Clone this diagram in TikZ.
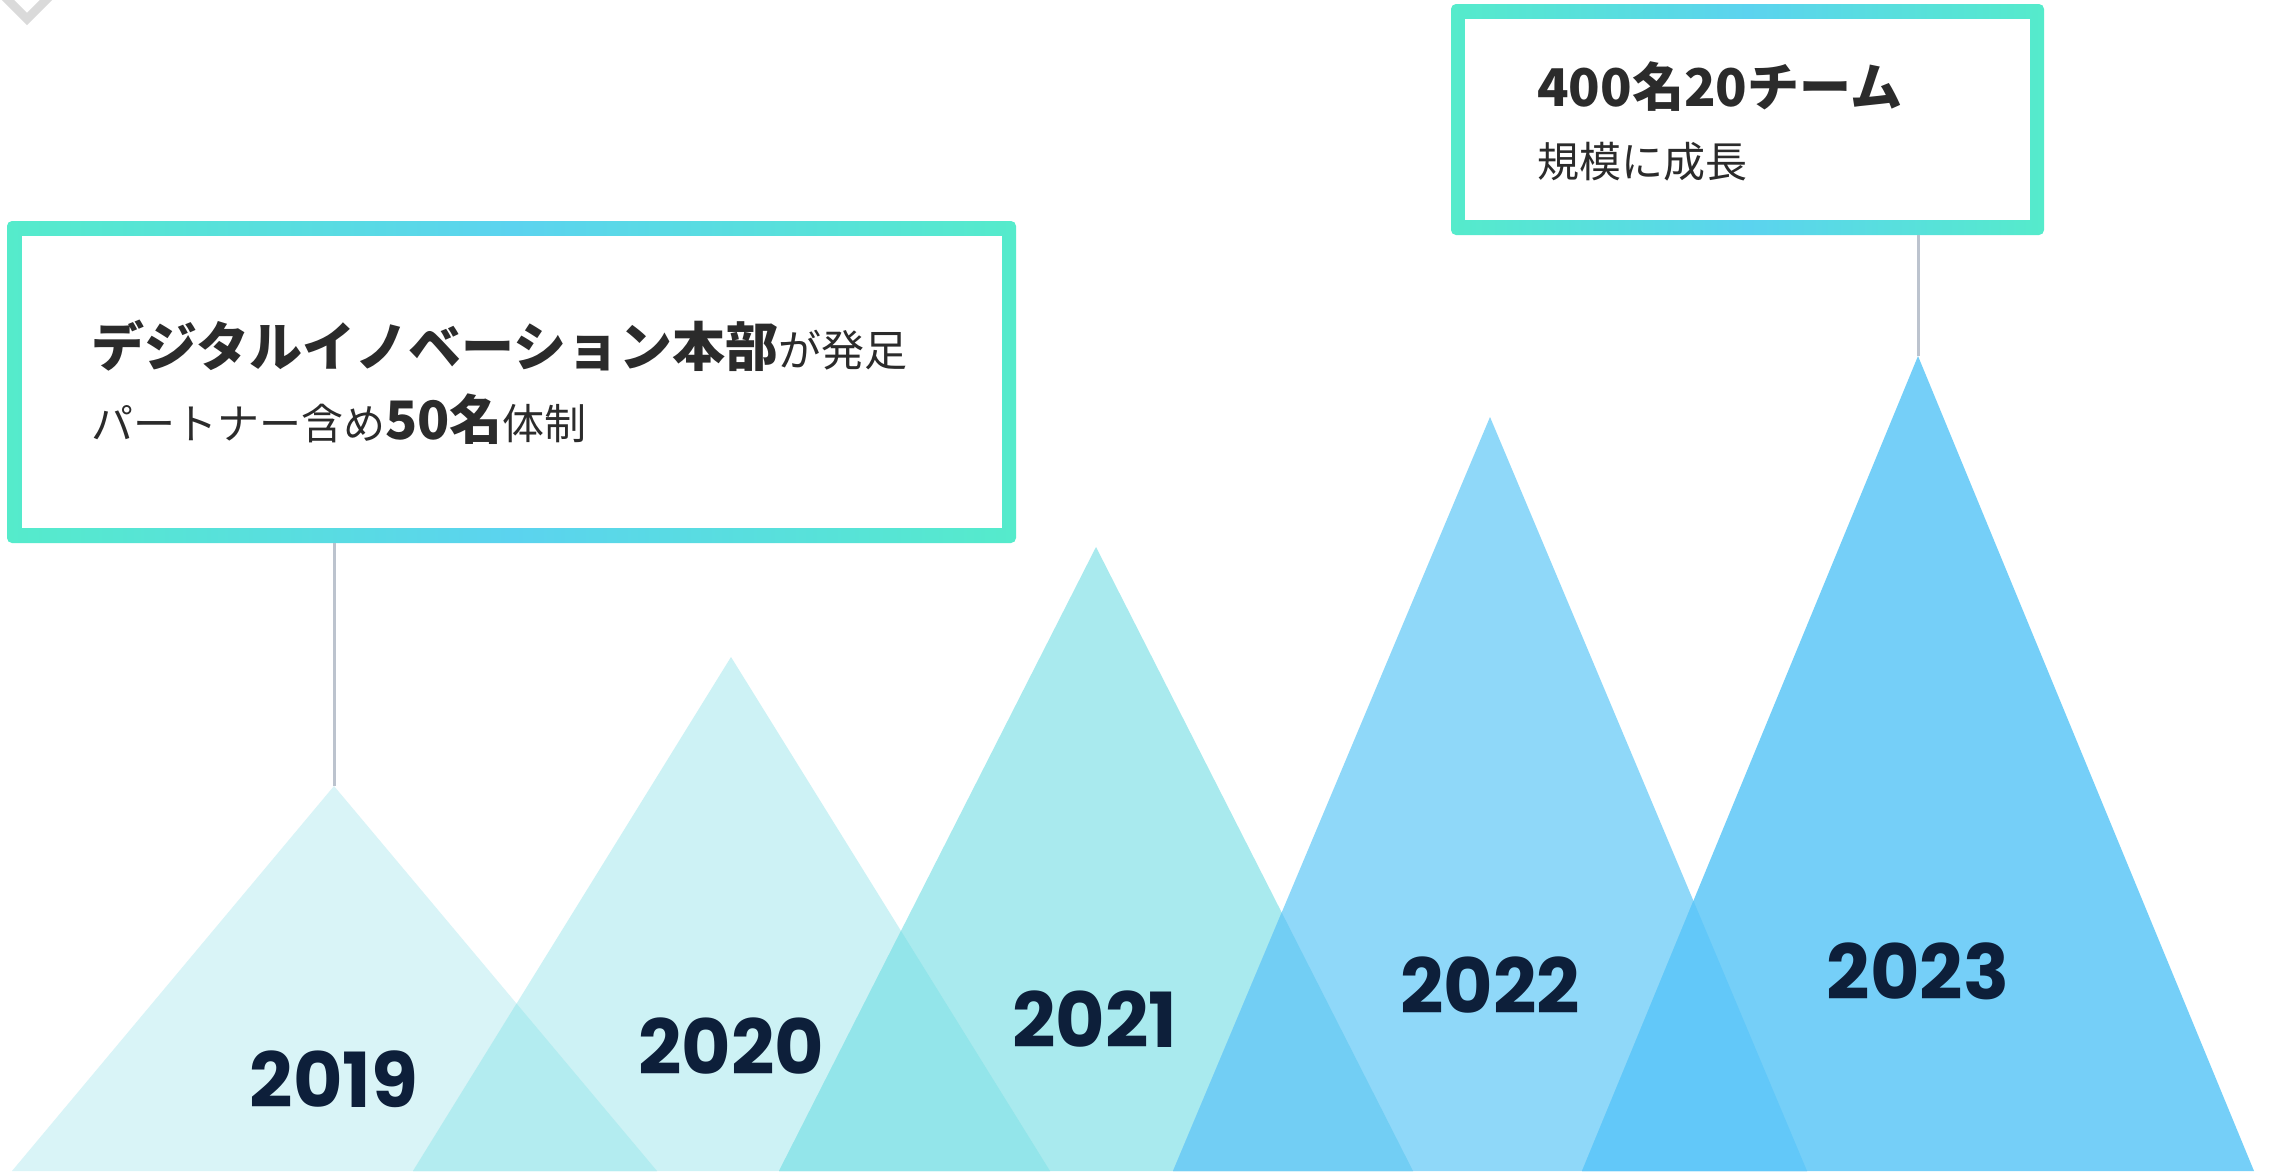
\documentclass[tikz,border=0pt]{standalone}
\usepackage{fontspec}
\newfontfamily\jp{Noto Sans CJK JP}
\newfontfamily\yr{Poppins}
\definecolor{tA}{HTML}{D9F4F7}
\definecolor{tB}{HTML}{CDF2F5}
\definecolor{tC}{HTML}{A9EAEE}
\definecolor{tD}{HTML}{8FD8F9}
\definecolor{tE}{HTML}{75CFF8}
\definecolor{oAB}{HTML}{B3ECF0}
\definecolor{oBC}{HTML}{93E5EA}
\definecolor{oCD}{HTML}{72CEF4}
\definecolor{oDE}{HTML}{62C8F9}
\definecolor{gEnd}{HTML}{55EBCB}
\definecolor{gMid}{HTML}{5BD3EF}
\definecolor{navy}{HTML}{0D1F3A}
\definecolor{txt}{HTML}{2B2B2B}
\definecolor{conn}{HTML}{BCC3CE}
\definecolor{chev}{HTML}{DADADA}
\begin{document}
\begin{tikzpicture}[x=1pt,y=-1pt,
  gbox/.style={inner sep=0, outer sep=0, rounded corners=5, left color=gEnd, right color=gEnd, middle color=gMid},
  wbox/.style={fill=white, inner sep=0, outer sep=0},
  yearlbl/.style={anchor=base, inner sep=0, text=navy, font=\yr\bfseries\fontsize{76}{76}\selectfont},
  boldtxt/.style={anchor=base west, inner sep=0, text=txt},
  connline/.style={draw=conn, line width=3}]
\clip (0,0) rectangle (2270,1171);
\fill[white] (0,0) rectangle (2270,1171);
% chevron
\draw[chev, line width=8.5] (-3,-11) -- (27,19) -- (57,-11);
% apexes
\coordinate (a19) at (334,786);
\coordinate (a20) at (731,657);
\coordinate (a21) at (1096,547);
\coordinate (a22) at (1490,417);
\coordinate (a23) at (1918,356);
% triangles
\fill[tA] (a19) -- (12,1171) -- (657,1171) -- cycle;
\fill[tB] (a20) -- (413,1171) -- (1050,1171) -- cycle;
\fill[tC] (a21) -- (779,1171) -- (1413,1171) -- cycle;
\fill[tD] (a22) -- (1173,1171) -- (1807,1171) -- cycle;
\fill[tE] (a23) -- (1582,1171) -- (2254,1171) -- cycle;
% overlaps
\begin{scope}
\clip (a19) -- (12,1171) -- (657,1171) -- cycle;
\fill[oAB] (a20) -- (413,1171) -- (1050,1171) -- cycle;
\end{scope}
\begin{scope}
\clip (a20) -- (413,1171) -- (1050,1171) -- cycle;
\fill[oBC] (a21) -- (779,1171) -- (1413,1171) -- cycle;
\end{scope}
\begin{scope}
\clip (a21) -- (779,1171) -- (1413,1171) -- cycle;
\fill[oCD] (a22) -- (1173,1171) -- (1807,1171) -- cycle;
\end{scope}
\begin{scope}
\clip (a22) -- (1173,1171) -- (1807,1171) -- cycle;
\fill[oDE] (a23) -- (1582,1171) -- (2254,1171) -- cycle;
\end{scope}
% year labels
\node[yearlbl] (y19) at (334,1107) {2019};
\node[yearlbl] (y20) at (731,1074) {2020};
\node[yearlbl] (y21) at (1095,1047) {2021};
\node[yearlbl] (y22) at (1490,1013) {2022};
\node[yearlbl] (y23) at (1918,999) {2023};
% boxes
\node[gbox, minimum width=1009, minimum height=322] (box1) at (511.5,382) {};
\node[wbox, minimum width=980, minimum height=292] (box1in) at (box1.center) {};
\node[gbox, minimum width=593, minimum height=231] (box2) at (1747.5,119.5) {};
\node[wbox, minimum width=565, minimum height=201] (box2in) at (box2.center) {};
% connectors
\draw[connline] (box1.south -| a19) -- (a19);
\draw[connline] (box2.south -| a23) -- (a23);
% texts
\node[boldtxt] (t1) at (91,366) {\jp\fontsize{43}{50}\selectfont{\bfseries\fontsize{53}{60}\selectfont デジタルイノベーション本部}が発足};
\node[boldtxt] (t2) at (91,439) {\jp\fontsize{42}{50}\selectfont パートナー含め{\bfseries\fontsize{53}{60}\selectfont 50名}体制};
\node[boldtxt] (t3) at (1537,106) {\jp\bfseries\fontsize{52}{60}\selectfont 400名20チーム};
\node[boldtxt] (t4) at (1537,177) {\jp\fontsize{42}{50}\selectfont 規模に成長};
\end{tikzpicture}
\end{document}
